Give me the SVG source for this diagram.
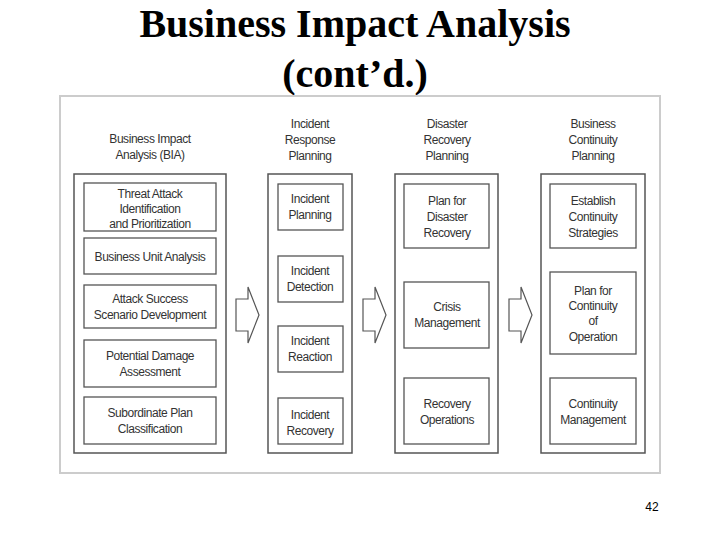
<svg xmlns="http://www.w3.org/2000/svg" width="720" height="540" viewBox="0 0 720 540">
<style>
.t{font-family:"Liberation Serif","Times New Roman",serif;font-size:40px;font-weight:bold;text-anchor:middle;fill:#000}
.l{font-family:"Liberation Sans",Arial,sans-serif;font-size:12px;letter-spacing:-0.45px;text-anchor:middle;fill:#333}
.o{fill:#fff;stroke:#555;stroke-width:1.5}
.b{fill:#fff;stroke:#555;stroke-width:1.3}
.a{fill:#fff;stroke:#555;stroke-width:1.2}
</style>
<rect width="720" height="540" fill="#fff"/>
<text class="t" x="355" y="37">Business Impact Analysis</text>
<text class="t" x="355" y="87">(cont’d.)</text>
<rect x="60" y="96" width="600" height="377" fill="#fff" stroke="#ccc" stroke-width="2"/>
<g id="headers">
<text class="l" x="150" y="143">Business Impact</text><text class="l" x="150" y="159">Analysis (BIA)</text>
<text class="l" x="310" y="128">Incident</text><text class="l" x="310" y="144">Response</text><text class="l" x="310" y="160">Planning</text>
<text class="l" x="447" y="128">Disaster</text><text class="l" x="447" y="144">Recovery</text><text class="l" x="447" y="160">Planning</text>
<text class="l" x="593" y="128">Business</text><text class="l" x="593" y="144">Continuity</text><text class="l" x="593" y="160">Planning</text>
</g>
<g id="col1"><rect class="o" x="74" y="174" width="152" height="279"/>
<g id="bia1"><rect class="b" x="84" y="183" width="132" height="48"/><text class="l" x="150" y="198">Threat Attack</text><text class="l" x="150" y="213">Identification</text><text class="l" x="150" y="228">and Prioritization</text></g>
<g id="bia2"><rect class="b" x="84" y="238" width="132" height="36"/><text class="l" x="150" y="261">Business Unit Analysis</text></g>
<g id="bia3"><rect class="b" x="84" y="285" width="132" height="43"/><text class="l" x="150" y="303">Attack Success</text><text class="l" x="150" y="319">Scenario Development</text></g>
<g id="bia4"><rect class="b" x="84" y="340" width="132" height="47"/><text class="l" x="150" y="360">Potential Damage</text><text class="l" x="150" y="376">Assessment</text></g>
<g id="bia5"><rect class="b" x="84" y="397" width="132" height="47"/><text class="l" x="150" y="417">Subordinate Plan</text><text class="l" x="150" y="433">Classification</text></g>
</g>
<g id="col2"><rect class="o" x="268" y="174" width="84" height="279"/>
<g id="ir1"><rect class="b" x="278" y="184" width="65" height="46"/><text class="l" x="310" y="203">Incident</text><text class="l" x="310" y="219">Planning</text></g>
<g id="ir2"><rect class="b" x="278" y="256" width="65" height="46"/><text class="l" x="310" y="275">Incident</text><text class="l" x="310" y="291">Detection</text></g>
<g id="ir3"><rect class="b" x="278" y="326" width="65" height="46"/><text class="l" x="310" y="345">Incident</text><text class="l" x="310" y="361">Reaction</text></g>
<g id="ir4"><rect class="b" x="278" y="398" width="65" height="46"/><text class="l" x="310" y="419">Incident</text><text class="l" x="310" y="435">Recovery</text></g>
</g>
<g id="col3"><rect class="o" x="395" y="174" width="103" height="279"/>
<g id="dr1"><rect class="b" x="404" y="184" width="85" height="64"/><text class="l" x="447" y="205">Plan for</text><text class="l" x="447" y="221">Disaster</text><text class="l" x="447" y="237">Recovery</text></g>
<g id="dr2"><rect class="b" x="404" y="282" width="85" height="66"/><text class="l" x="447" y="311">Crisis</text><text class="l" x="447" y="327">Management</text></g>
<g id="dr3"><rect class="b" x="404" y="378" width="85" height="66"/><text class="l" x="447" y="408">Recovery</text><text class="l" x="447" y="424">Operations</text></g>
</g>
<g id="col4"><rect class="o" x="541" y="174" width="104" height="279"/>
<g id="bc1"><rect class="b" x="550" y="184" width="86" height="64"/><text class="l" x="593" y="205">Establish</text><text class="l" x="593" y="221">Continuity</text><text class="l" x="593" y="237">Strategies</text></g>
<g id="bc2"><rect class="b" x="550" y="272" width="86" height="82"/><text class="l" x="593" y="295">Plan for</text><text class="l" x="593" y="310">Continuity</text><text class="l" x="593" y="325">of</text><text class="l" x="593" y="341">Operation</text></g>
<g id="bc3"><rect class="b" x="550" y="378" width="86" height="66"/><text class="l" x="593" y="408">Continuity</text><text class="l" x="593" y="424">Management</text></g>
</g>
<g id="connectors">
<path class="a" d="M236,299 H248 V287 L259,315 L248,343 V331 H236 Z"/>
<path class="a" d="M363,299 H375 V287 L386,315 L375,343 V331 H363 Z"/>
<path class="a" d="M509,299 H521 V287 L532,315 L521,343 V331 H509 Z"/>
</g>
<text x="652" y="511" font-family="Liberation Sans,Arial,sans-serif" font-size="12" text-anchor="middle">42</text>
</svg>
